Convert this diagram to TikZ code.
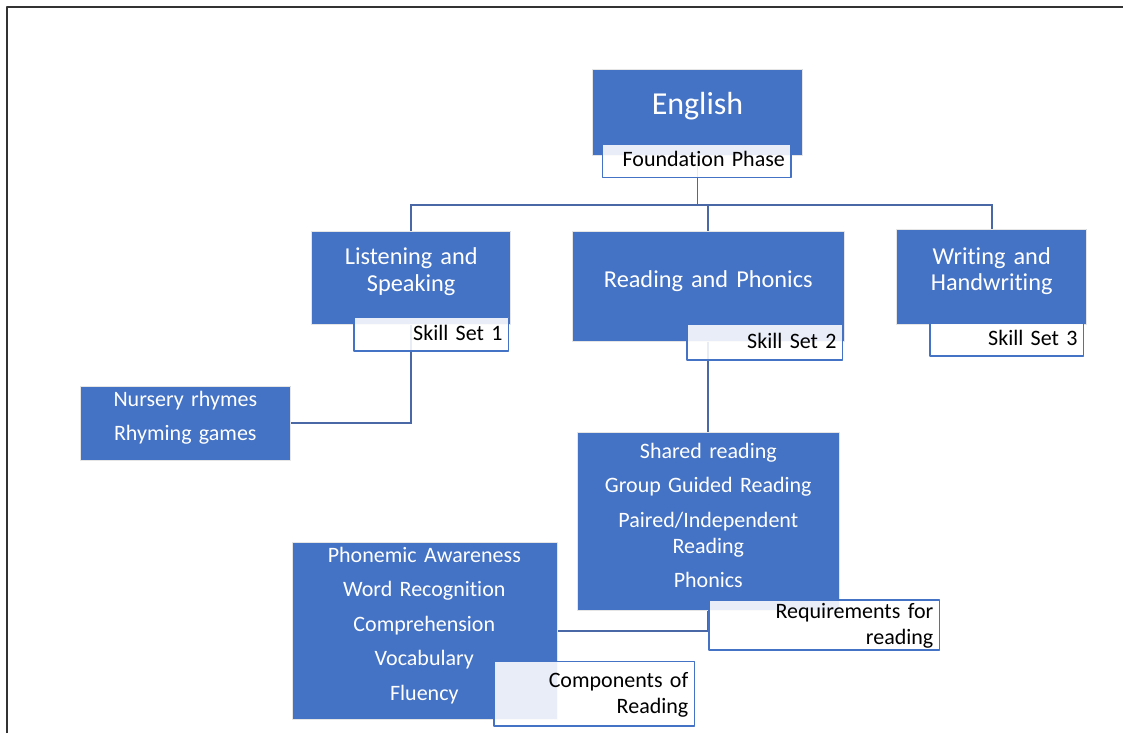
\documentclass[tikz,border=0pt]{standalone}
\usepackage{fontspec}
\setmainfont{Carlito}[Ligatures=NoCommon]
\usetikzlibrary{backgrounds}
\definecolor{boxblue}{HTML}{4472C4}
\definecolor{linkblue}{HTML}{4A68A6}
\tikzset{
  bluebox/.style={fill=boxblue, draw=black!10, line width=0.6pt, text=white, align=center, inner sep=0pt, text width=#1},
  tagbox/.style={fill=white, fill opacity=0.88, text opacity=1, draw=boxblue, line width=1.5pt, align=right, inner xsep=6pt, inner ysep=0pt, text width=#1},
  skillfont/.style={font=\fontsize{24.3}{26.7}\selectfont},
  drop/.style={text height=0pt, text depth=#1},
  lift/.style={text height=#1, text depth=0pt},
  link/.style={draw=linkblue, line width=1.8pt},
}
\begin{document}
\begin{tikzpicture}[x=1pt, y=-1pt, font=\fontsize{22}{26}\selectfont, line join=round]
	\useasboundingbox (0,0) rectangle (1123,733);
	\draw[black!80, line width=1.3pt] (7,733) -- (7,7) -- (1123,7);
	% subject
	\node[bluebox=210, minimum height=86, lift=4pt, font=\fontsize{32}{36}\selectfont] (eng) at (697.5,112) {English};
	\node[tagbox=176.5, minimum height=33.5, lift=11.8pt] (fnd) at (696.7,160.8) {Foundation Phase};
	% skill sets
	\node[bluebox=199, minimum height=93, drop=26.4pt, skillfont] (lis) at (411.2,277.5) {Listening and\\Speaking};
	\node[tagbox=142.5, minimum height=33.5, lift=13pt] (ss1) at (431.3,334.2) {Skill Set 1};
	\node[bluebox=272, minimum height=110, lift=2.2pt, skillfont] (rea) at (708.3,285.9) {Reading and Phonics};
	\node[tagbox=143.8, minimum height=35.2, lift=12pt] (ss2) at (764.7,342.3) {Skill Set 2};
	\node[bluebox=190, minimum height=95, drop=25.6pt, skillfont] (wri) at (991.7,276.8) {Writing and\\Handwriting};
	\node[tagbox=141.5, minimum height=33, lift=12.4pt] (ss3) at (1006.8,339.5) {Skill Set 3};
	% activities
	\node[bluebox=210.7, minimum height=74, drop=34pt] (nur) at (185.3,423) {Nursery rhymes\\[8.5pt]Rhyming games};
	\node[bluebox=262, minimum height=177.7, drop=125.8pt] (sha) at (708.3,521.2) {Shared reading\\[8.4pt]Group Guided Reading\\[8.4pt]Paired/Independent\\Reading\\[8.4pt]Phonics};
	\node[tagbox=218.2, minimum height=50, drop=13.4pt] (req) at (824.2,625) {Requirements for\\reading};
	\node[bluebox=265, minimum height=177, drop=137pt] (pho) at (424.3,630.8) {Phonemic Awareness\\[8.5pt]Word Recognition\\[8.5pt]Comprehension\\[8.5pt]Vocabulary\\[8.5pt]Fluency};
	\node[tagbox=188.2, minimum height=64.5, drop=12.8pt] (cmp) at (594.2,693.7) {Components of\\Reading};
	% connectors
	\begin{scope}[on background layer]
		\path (eng.south) ++(0,50) coordinate (bus);
		\draw[link] (eng.south) -- (bus);
		\foreach \n in {lis,rea,wri}{\draw[link] (bus) -| (\n.north);}
		\draw[link] (lis.south) |- (nur.east);
		\draw[link] (rea.south) -- (sha.north);
		\draw[link] (sha.south) |- (pho.east);
	\end{scope}
\end{tikzpicture}
\end{document}
